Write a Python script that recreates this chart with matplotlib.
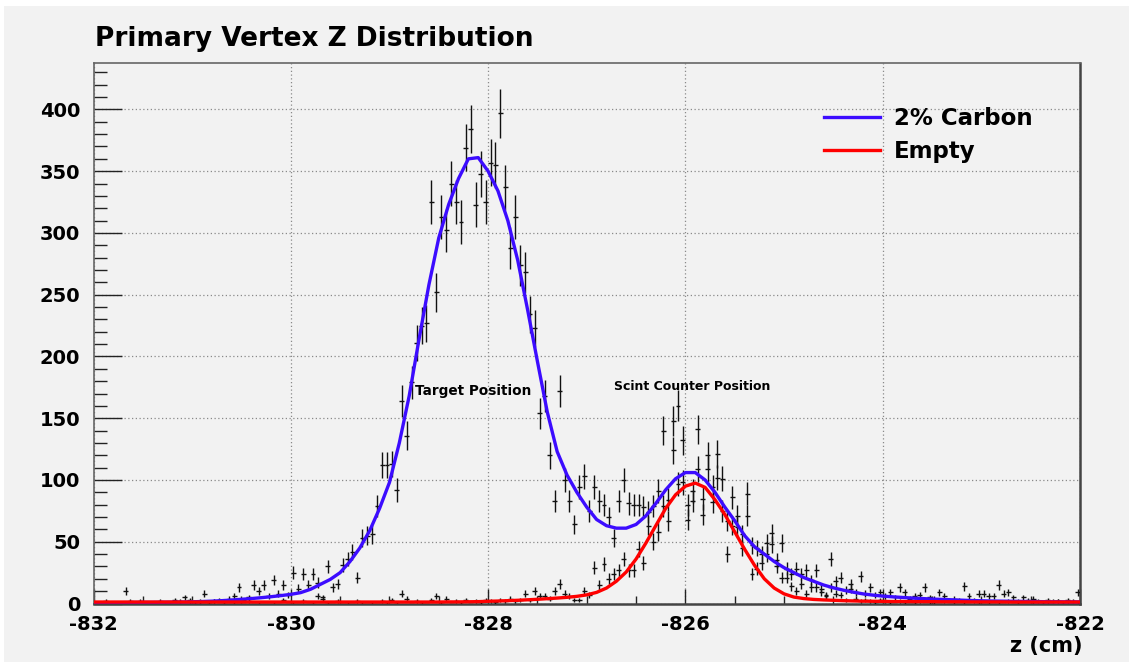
import numpy as np
import matplotlib
matplotlib.use("Agg")
import matplotlib.pyplot as plt
from matplotlib.lines import Line2D
from matplotlib.patches import Rectangle
from matplotlib.ticker import MultipleLocator

plt.rcParams["font.family"] = ["DejaVu Sans"]
plt.rcParams["font.weight"] = "bold"
plt.rcParams["axes.unicode_minus"] = False

# ---- histogram binning (cm) ----
z_low, z_high = -832.0, -822.0
bin_width = 0.05

# ---- vertex z counts per 0.05 cm bin: 2% carbon target ----
carbon_counts = [
    1, 0, 2, 0, 1, 0, 10, 1, 0, 2,
    1, 0, 1, 2, 0, 1, 3, 1, 5, 3,
    1, 2, 8, 1, 2, 3, 2, 4, 6, 13,
    3, 5, 15, 10, 15, 6, 19, 8, 15, 7,
    25, 12, 24, 15, 24, 17, 5, 30, 13, 16,
    31, 36, 42, 21, 53, 55, 56, 79, 112, 112,
    113, 92, 164, 136, 179, 211, 225, 227, 325, 252,
    313, 302, 340, 325, 309, 369, 384, 323, 348, 325,
    357, 355, 397, 337, 288, 313, 274, 268, 234, 223,
    154, 168, 120, 83, 172, 100, 83, 64, 94, 103,
    75, 94, 83, 80, 70, 53, 83, 100, 81, 80,
    80, 78, 74, 79, 91, 140, 67, 148, 160, 132,
    80, 91, 141, 85, 120, 94, 121, 101, 67, 86,
    71, 56, 89, 47, 45, 40, 49, 57, 35, 49,
    28, 24, 28, 24, 27, 19, 27, 12, 7, 36,
    18, 21, 11, 16, 9, 22, 8, 13, 7, 9,
    6, 9, 5, 13, 9, 4, 6, 7, 13, 5,
    4, 9, 6, 3, 4, 3, 14, 6, 3, 8,
    8, 6, 6, 15, 8, 9, 5, 2, 5, 3,
    4, 2, 1, 3, 2, 2, 1, 3, 2, 9,
]

# ---- vertex z counts per 0.05 cm bin: empty target ----
empty_counts = [
    1, 0, 1, 0, 0, 1, 0, 2, 0, 1, 0, 0, 1, 0, 1, 0, 0, 2, 0, 1,
    0, 1, 0, 0, 2, 0, 1, 0, 1, 0, 0, 2, 0, 1, 0, 0, 1, 0, 3, 0,
    1, 0, 2, 0, 1, 6, 4, 1, 0, 2, 0, 1, 0, 2, 1, 0, 1, 0, 2, 1,
    3, 1, 8, 4, 0, 2, 1, 0, 3, 6, 1, 4, 0, 2, 1, 3, 0, 2, 1, 3,
    2, 1, 3, 2, 4, 2, 3, 8, 3, 10, 6, 6, 4, 10, 16, 8, 6, 3, 3, 10,
    7, 29, 15, 32, 20, 24, 27, 36, 27, 27, 44, 33, 63, 50, 58, 79, 84, 124, 97, 98,
    68, 83, 109, 72, 109, 82, 102, 75, 40, 63, 62, 45, 71, 24, 28, 33, 40, 48, 30, 21,
    21, 14, 10, 16, 8, 13, 13, 9, 6, 13, 8, 7, 3, 12, 4, 2, 3, 2, 1, 3,
    2, 1, 0, 2, 1, 0, 1, 2, 0, 1, 1, 0, 2, 0, 1, 0, 1, 0, 2, 1,
    0, 1, 0, 1, 0, 2, 0, 1, 0, 0, 1, 0, 0, 1, 0, 2, 0, 1, 0, 1,
]

# ---- fitted curves, sampled every 0.1 cm from -832 to -822 ----
carbon_fit = [
    0.6, 0.6, 0.7, 0.7, 0.8, 0.9, 0.9, 1.0, 1.1, 1.2,
    1.4, 1.6, 1.9, 2.3, 2.8, 3.4, 4.0, 4.7, 5.5, 6.4, 7.4,
    8.8, 11.5, 15.5, 19.5, 25, 34, 45, 59, 77, 98,
    130, 168, 214, 258, 296, 323, 344, 360, 361, 350,
    334, 310, 278, 238, 196, 155, 123, 104, 90, 78,
    68, 63, 61, 61, 64, 71, 81, 92, 101, 106,
    106, 100, 90, 78, 67, 55, 46, 40, 34, 29,
    25, 21, 18, 15, 12.7, 10.8, 9.2, 7.8, 6.8, 6.0,
    5.4, 4.9, 4.4, 4.0, 3.6, 3.3, 3.0, 2.7, 2.4, 2.2,
    2.0, 1.9, 1.8, 1.7, 1.6, 1.5, 1.4, 1.4, 1.3, 1.3,
]
empty_fit = [
    1.2, 1.2, 1.2, 1.2, 1.2, 1.2, 1.2, 1.2, 1.2, 1.2,
    1.2, 1.2, 1.2, 1.2, 1.2, 1.2, 1.2, 1.2, 1.2, 1.2,
    1.2, 1.2, 1.2, 1.2, 1.2, 1.2, 1.2, 1.2, 1.2, 1.2,
    1.2, 1.2, 1.2, 1.2, 1.2, 1.2,
    1.3, 1.3, 1.4, 1.5, 1.8,
    2.0, 2.3, 2.6, 3.0, 3.4, 3.9, 4.4, 5.0, 5.8, 7.0,
    9.0, 12.5, 18, 25.5, 36, 49, 63, 77, 88, 95,
    97.5, 94, 84, 72, 58, 44, 31, 20, 12.5, 7.8,
    5.2, 4.0, 3.3, 2.9, 2.6, 2.3, 2.1, 1.9, 1.8, 1.7,
    1.6, 1.6, 1.5, 1.5, 1.5, 1.4, 1.4, 1.4, 1.3, 1.3,
    1.3, 1.3, 1.2, 1.2, 1.2, 1.2, 1.2, 1.2, 1.2, 1.2,
]

series_labels = ["2% Carbon", "Empty"]
x_ticks = [-832, -830, -828, -826, -824, -822]

carbon_color = "#3c0cff"
empty_color = "#ff0000"
panel_gray = "#f2f2f2"

W, H = 1129, 662
fig = plt.figure(figsize=(W / 100, H / 100), dpi=100, facecolor="white")
fig.patches.append(Rectangle((4 / W, 0), 1, 1 - 6 / H, transform=fig.transFigure,
                             facecolor=panel_gray, edgecolor="none", zorder=-10))

ax = fig.add_axes([93.5 / W, 1 - 603.5 / H, (1080 - 93.5) / W, (603.5 - 62.5) / H])
ax.set_facecolor(panel_gray)

centers = z_low + bin_width * (np.arange(len(carbon_counts)) + 0.5)
fit_z = np.linspace(z_low, z_high, len(carbon_fit))

for counts in (carbon_counts, empty_counts):
    c = np.asarray(counts, dtype=float)
    ax.errorbar(centers, c, xerr=bin_width / 2, yerr=np.sqrt(c), fmt="none",
                ecolor="#111111", elinewidth=1.0, capsize=0, zorder=3)

ax.plot(fit_z, carbon_fit, color=carbon_color, lw=2.4, zorder=4)
ax.plot(fit_z, empty_fit, color=empty_color, lw=2.4, zorder=5)

ax.set_xlim(z_low, z_high)
ax.set_ylim(0, 438)
ax.set_xticks(x_ticks)
ax.xaxis.set_minor_locator(MultipleLocator(0.5))
ax.yaxis.set_major_locator(MultipleLocator(50))
ax.yaxis.set_minor_locator(MultipleLocator(10))

ax.grid(True, which="major", linestyle=(0, (1, 2)), color="#8a8a8a", lw=0.9, zorder=1)
ax.set_axisbelow(True)

ax.tick_params(axis="y", which="major", direction="in", length=20, width=1.0,
               pad=9.5, labelsize=14, color="#222222")
ax.tick_params(axis="y", which="minor", direction="in", length=9.5, width=1.0, color="#222222")
ax.tick_params(axis="x", which="major", direction="in", length=11, width=1.0,
               pad=8, labelsize=14, color="#222222")
ax.tick_params(axis="x", which="minor", direction="in", length=6, width=1.0, color="#222222")

for side in ("left", "top"):
    ax.spines[side].set_color("#666666")
    ax.spines[side].set_linewidth(1.2)
for side in ("right", "bottom"):
    ax.spines[side].set_color("#444444")
    ax.spines[side].set_linewidth(1.8)

ax.text(-828.74, 172, "Target Position", fontsize=9.8, va="center", zorder=6)
ax.text(-826.72, 176, "Scint Counter Position", fontsize=9, va="center", zorder=6)

handles = [Line2D([], [], color=carbon_color, lw=2.4),
           Line2D([], [], color=empty_color, lw=2.4)]
ax.legend(handles, series_labels, loc="upper left", frameon=False,
          bbox_to_anchor=(824 / W, 1 - 107 / H), bbox_transform=fig.transFigure,
          fontsize=16.5, handlelength=2.45, handletextpad=0.6,
          labelspacing=0.42, borderpad=0, borderaxespad=0)

fig.text(95 / W, 1 - 46 / H, "Primary Vertex Z Distribution", fontsize=19,
         fontweight="bold", va="baseline")
fig.text(1082 / W, 1 - 652 / H, "z (cm)", fontsize=15, fontweight="bold",
         ha="right", va="baseline")

fig.savefig("out.png", dpi=100, facecolor=fig.get_facecolor())
